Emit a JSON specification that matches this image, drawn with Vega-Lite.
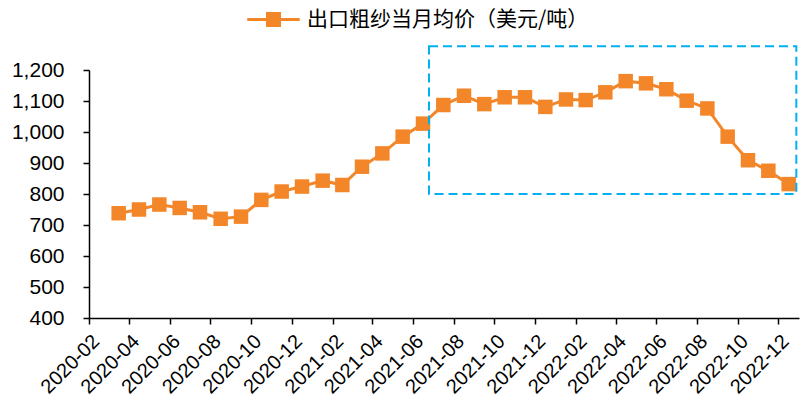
{
  "$schema": "https://vega.github.io/schema/vega-lite/v6.json",
  "width": 710,
  "height": 248,
  "autosize": {"type": "none"},
  "padding": {"left": 89, "top": 70, "right": 1, "bottom": 82},
  "background": "white",
  "config": {
    "view": {"stroke": null},
    "font": "Liberation Sans",
    "axis": {
      "domainColor": "#000000",
      "domainWidth": 1.5,
      "tickColor": "#000000",
      "tickWidth": 1.5,
      "tickSize": 6,
      "labelColor": "#000000",
      "labelFont": "Liberation Sans",
      "grid": false,
      "title": null
    },
    "axisX": {
      "format": "%Y-%m",
      "labelAngle": -45,
      "labelAlign": "right",
      "labelBaseline": "middle",
      "labelFontSize": 20,
      "labelPadding": 14,
      "labelOffset": 7,
      "labelOverlap": false
    },
    "axisY": {
      "format": ",.0f",
      "labelFontSize": 21,
      "labelPadding": 19,
      "labelOverlap": false,
      "tickCount": 8
    }
  },
  "layer": [
    {
      "data": {
        "values": [
          {"month": "2020-03", "price": 738, "series": "出口粗纱当月均价（美元/吨）"},
          {"month": "2020-04", "price": 750, "series": "出口粗纱当月均价（美元/吨）"},
          {"month": "2020-05", "price": 766, "series": "出口粗纱当月均价（美元/吨）"},
          {"month": "2020-06", "price": 755, "series": "出口粗纱当月均价（美元/吨）"},
          {"month": "2020-07", "price": 741, "series": "出口粗纱当月均价（美元/吨）"},
          {"month": "2020-08", "price": 720, "series": "出口粗纱当月均价（美元/吨）"},
          {"month": "2020-09", "price": 727, "series": "出口粗纱当月均价（美元/吨）"},
          {"month": "2020-10", "price": 781, "series": "出口粗纱当月均价（美元/吨）"},
          {"month": "2020-11", "price": 808, "series": "出口粗纱当月均价（美元/吨）"},
          {"month": "2020-12", "price": 824, "series": "出口粗纱当月均价（美元/吨）"},
          {"month": "2021-01", "price": 843, "series": "出口粗纱当月均价（美元/吨）"},
          {"month": "2021-02", "price": 829, "series": "出口粗纱当月均价（美元/吨）"},
          {"month": "2021-03", "price": 888, "series": "出口粗纱当月均价（美元/吨）"},
          {"month": "2021-04", "price": 931, "series": "出口粗纱当月均价（美元/吨）"},
          {"month": "2021-05", "price": 985, "series": "出口粗纱当月均价（美元/吨）"},
          {"month": "2021-06", "price": 1027, "series": "出口粗纱当月均价（美元/吨）"},
          {"month": "2021-07", "price": 1087, "series": "出口粗纱当月均价（美元/吨）"},
          {"month": "2021-08", "price": 1117, "series": "出口粗纱当月均价（美元/吨）"},
          {"month": "2021-09", "price": 1090, "series": "出口粗纱当月均价（美元/吨）"},
          {"month": "2021-10", "price": 1112, "series": "出口粗纱当月均价（美元/吨）"},
          {"month": "2021-11", "price": 1112, "series": "出口粗纱当月均价（美元/吨）"},
          {"month": "2021-12", "price": 1081, "series": "出口粗纱当月均价（美元/吨）"},
          {"month": "2022-01", "price": 1105, "series": "出口粗纱当月均价（美元/吨）"},
          {"month": "2022-02", "price": 1103, "series": "出口粗纱当月均价（美元/吨）"},
          {"month": "2022-03", "price": 1128, "series": "出口粗纱当月均价（美元/吨）"},
          {"month": "2022-04", "price": 1164, "series": "出口粗纱当月均价（美元/吨）"},
          {"month": "2022-05", "price": 1157, "series": "出口粗纱当月均价（美元/吨）"},
          {"month": "2022-06", "price": 1138, "series": "出口粗纱当月均价（美元/吨）"},
          {"month": "2022-07", "price": 1101, "series": "出口粗纱当月均价（美元/吨）"},
          {"month": "2022-08", "price": 1076, "series": "出口粗纱当月均价（美元/吨）"},
          {"month": "2022-09", "price": 985, "series": "出口粗纱当月均价（美元/吨）"},
          {"month": "2022-10", "price": 909, "series": "出口粗纱当月均价（美元/吨）"},
          {"month": "2022-11", "price": 875, "series": "出口粗纱当月均价（美元/吨）"},
          {"month": "2022-12", "price": 832, "series": "出口粗纱当月均价（美元/吨）"}
        ]
      },
      "mark": {
        "type": "line",
        "strokeWidth": 3,
        "point": {"shape": "square", "size": 210, "filled": true, "opacity": 1}
      },
      "encoding": {
        "x": {
          "field": "month",
          "type": "temporal",
          "timeUnit": "utcyearmonth",
          "bandPosition": 0.5,
          "scale": {
            "type": "utc",
            "domain": [
              {"year": 2020, "month": 2, "date": 1, "utc": true},
              {"year": 2023, "month": 1, "date": 1, "utc": true}
            ]
          },
          "axis": {
            "values": [
              {"year": 2020, "month": 2, "date": 1, "utc": true},
              {"year": 2020, "month": 4, "date": 1, "utc": true},
              {"year": 2020, "month": 6, "date": 1, "utc": true},
              {"year": 2020, "month": 8, "date": 1, "utc": true},
              {"year": 2020, "month": 10, "date": 1, "utc": true},
              {"year": 2020, "month": 12, "date": 1, "utc": true},
              {"year": 2021, "month": 2, "date": 1, "utc": true},
              {"year": 2021, "month": 4, "date": 1, "utc": true},
              {"year": 2021, "month": 6, "date": 1, "utc": true},
              {"year": 2021, "month": 8, "date": 1, "utc": true},
              {"year": 2021, "month": 10, "date": 1, "utc": true},
              {"year": 2021, "month": 12, "date": 1, "utc": true},
              {"year": 2022, "month": 2, "date": 1, "utc": true},
              {"year": 2022, "month": 4, "date": 1, "utc": true},
              {"year": 2022, "month": 6, "date": 1, "utc": true},
              {"year": 2022, "month": 8, "date": 1, "utc": true},
              {"year": 2022, "month": 10, "date": 1, "utc": true},
              {"year": 2022, "month": 12, "date": 1, "utc": true}
            ]
          }
        },
        "y": {
          "field": "price",
          "type": "quantitative",
          "scale": {"domain": [400, 1200], "nice": false, "zero": false},
          "axis": {"tickCount": 8, "labelOverlap": false}
        },
        "color": {
          "field": "series",
          "type": "nominal",
          "scale": {"range": ["#F4862A"]},
          "legend": {
            "title": null,
            "orient": "none",
            "legendX": 174,
            "legendY": -61,
            "padding": 0,
            "symbolType": "M-3.5,-0.2H3.5V0.2H-3.5Z M-1,-1H1V1H-1Z",
            "symbolSize": 225,
            "symbolFillColor": "#F4862A",
            "symbolStrokeColor": "#F4862A",
            "symbolStrokeWidth": 0,
            "labelOffset": 23,
            "labelFont": "Noto Sans CJK SC",
            "labelFontSize": 21,
            "labelColor": "#000000",
            "labelLimit": 400
          }
        }
      }
    },
    {
      "data": {"values": [{"start": "2021-06-25", "end": "2022-12-28", "low": 800, "high": 1277}]},
      "mark": {"type": "rect", "fill": null, "stroke": "#00B0F0", "strokeWidth": 2, "strokeDash": [9, 5], "clip": false},
      "encoding": {
        "x": {"field": "start", "type": "temporal"},
        "x2": {"field": "end"},
        "y": {"field": "low", "type": "quantitative", "axis": {"tickCount": 8, "labelOverlap": false}},
        "y2": {"field": "high"}
      }
    }
  ]
}
